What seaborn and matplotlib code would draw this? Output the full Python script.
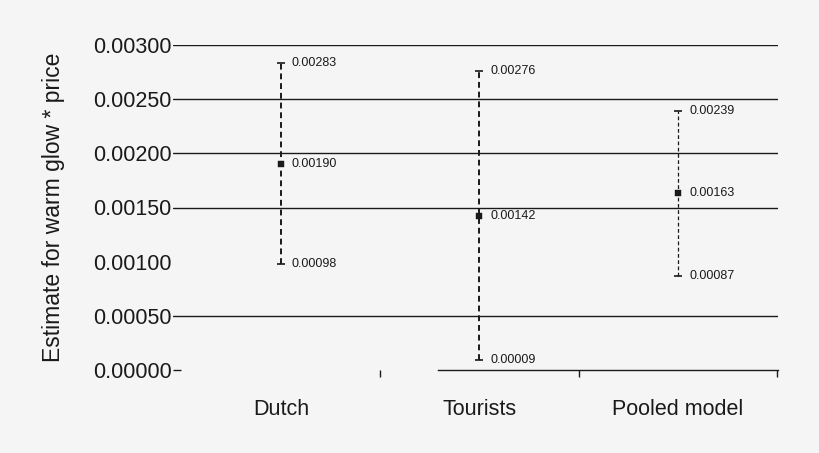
import matplotlib
matplotlib.use("Agg")
import matplotlib.pyplot as plt
import pandas as pd
import seaborn as sns

# estimates with confidence bounds
groups = ["Dutch", "Tourists", "Pooled model"]
estimate = [0.00190, 0.00142, 0.00163]
lower = [0.00098, 0.00009, 0.00087]
upper = [0.00283, 0.00276, 0.00239]
y_ticks = [0.0, 0.0005, 0.0010, 0.0015, 0.0020, 0.0025, 0.0030]
grid_levels = [0.0005, 0.0015, 0.0020, 0.0025, 0.0030]

BG = "#f5f5f5"
INK = "#1a1a1a"

df = pd.DataFrame({"group": groups, "est": estimate, "lo": lower, "hi": upper})

sns.set_theme(style="white")
plt.rcParams["font.family"] = ["Liberation Sans", "DejaVu Sans"]

fig = plt.figure(figsize=(8.2, 4.53), dpi=100, facecolor=BG)
ax = fig.add_axes([173 / 820, 1 - 370 / 453, (778 - 173) / 820, (370 - 45) / 453])
ax.set_facecolor(BG)

for lvl in grid_levels:
    ax.axhline(lvl, color=INK, lw=1.0, zorder=1)

pos = list(range(len(groups)))
widths = [1.4, 1.4, 0.9]
for i, row in df.iterrows():
    eb = ax.errorbar(
        pos[i], row["est"],
        yerr=[[row["est"] - row["lo"]], [row["hi"] - row["est"]]],
        fmt="none", ecolor=INK, elinewidth=widths[i], capsize=3, capthick=1.2, zorder=2,
    )
    eb[2][0].set_linestyle((0, (3, 2)))

sns.scatterplot(x=pos, y=df["est"], marker="s", s=14, color=INK, edgecolor=INK, ax=ax, zorder=3)

for i, row in df.iterrows():
    for v in (row["lo"], row["est"], row["hi"]):
        ax.annotate(f"{v:.5f}", (pos[i], v), xytext=(8, 0), textcoords="offset points",
                    va="center", ha="left", fontsize=9, color=INK)

ax.set_xlim(-0.543, 2.503)
ax.set_ylim(0, 0.0030)
ax.yaxis.remove_overlapping_locs = False
ax.set_yticks(y_ticks)
ax.set_yticklabels([f"{t:.5f}" for t in y_ticks], fontsize=15.5, color=INK)
ax.set_yticks([0.0], minor=True)
ax.set_xticks(pos)
ax.set_xticklabels(groups, fontsize=15.5, color=INK)
ax.set_xticks([0.5, 1.5, 2.5], minor=True)
ax.tick_params(axis="y", which="major", left=False, length=0, pad=1)
ax.tick_params(axis="y", which="minor", left=True, length=6, width=1, color=INK, direction="in")
ax.tick_params(axis="x", which="major", bottom=False, length=0, pad=21)
ax.tick_params(axis="x", which="minor", bottom=True, length=5, width=1, color=INK, direction="out")

for s in ["left", "right", "top"]:
    ax.spines[s].set_visible(False)
ax.spines["bottom"].set_color(INK)
ax.spines["bottom"].set_linewidth(1.0)
ax.spines["bottom"].set_bounds(0.79, 2.503)

ax.set_ylabel("Estimate for warm glow * price", fontsize=16.5, color=INK, labelpad=20)

fig.savefig("out.png", dpi=100, facecolor=BG)
